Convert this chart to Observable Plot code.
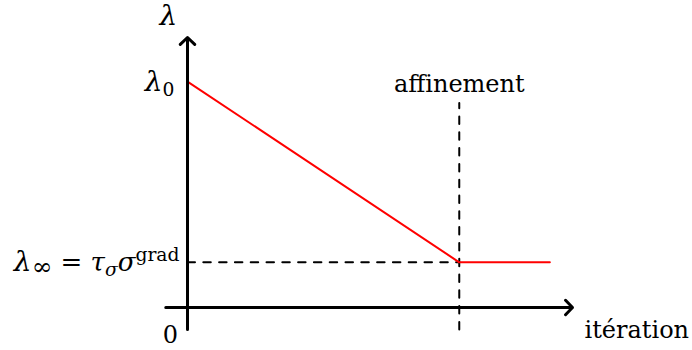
<!DOCTYPE html>
<html><head><meta charset="utf-8">
<script src="https://cdn.jsdelivr.net/npm/d3@7"></script>
<script src="https://cdn.jsdelivr.net/npm/@observablehq/plot@0.6"></script>
<style>body{margin:0;background:#fff} svg{display:block}</style>
</head><body><div id="chart"></div>
<script>
// ---- data ----
const iteration = [0, 3, 4];            // start, affinement, end of curve
const lambda = [1, 0.2, 0.2];           // λ0 decreasing to λ∞, then constant
const lambda0 = 1;
const lambdaInf = 0.2;
const affinementIter = 3;
const xAxisExtent = [-0.24, 4.25];
const yAxisExtent = [-0.097, 1.195];
const affinementTop = 0.905;
const yTickValues = [lambda0, lambdaInf];
const yTickLabels = ["λ0", "λ∞ = τσσgrad"];
const originLabel = "0";
const xAxisLabel = "itération";
const yAxisLabel = "λ";
const affinementLabel = "affinement";

// rich text (sub/superscripts) for labels
const M = 26; // math font size
const rich = {
  "λ": [["λ", "lam"]],
  "λ0": [["λ", "lam"], ["0", "sub"]],
  "λ∞ = τσσgrad": [["λ", "lam"], ["∞", "inf"], [" = ", "r"], ["τ", "mi"], ["σ", "subi"], ["σ", "mi"], ["grad", "sup"]]
};

const font = "DejaVu Serif";

const chart = Plot.plot({
  width: 692, height: 350,
  marginLeft: 187, marginRight: 120, marginTop: 37, marginBottom: 43,
  x: {domain: [0, xAxisExtent[1]], axis: null},
  y: {domain: [0, yAxisExtent[1]], axis: null},
  style: {background: "white", overflow: "visible"},
  marks: [
    // dashed guides
    Plot.line([{x: 0, y: lambdaInf}, {x: affinementIter, y: lambdaInf}],
      {x: "x", y: "y", stroke: "black", strokeWidth: 2, strokeDasharray: "7.5,8.3"}),
    Plot.line([{x: affinementIter, y: yAxisExtent[0]}, {x: affinementIter, y: affinementTop}],
      {x: "x", y: "y", stroke: "black", strokeWidth: 2, strokeDasharray: "7.5,8.3"}),
    // curve
    Plot.line(iteration.map((x, i) => ({x, y: lambda[i]})),
      {x: "x", y: "y", stroke: "#ff0000", strokeWidth: 2}),
    // axes
    Plot.arrow([
      {x1: xAxisExtent[0], y1: 0, x2: xAxisExtent[1], y2: 0},
      {x1: 0, y1: yAxisExtent[0], x2: 0, y2: yAxisExtent[1]}
    ], {x1: "x1", y1: "y1", x2: "x2", y2: "y2", stroke: "black", strokeWidth: 3, headLength: 5, headAngle: 92}),
    // y tick labels
    Plot.text([yTickLabels[0]], {x: () => 0, y: () => yTickValues[0], text: d => d, textAnchor: "end", dx: -13, dy: 1,
      fontFamily: font, fontSize: M, fill: "black"}),
    Plot.text([yTickLabels[1]], {x: () => 0, y: () => yTickValues[1], text: d => d, textAnchor: "end", dx: -8, dy: 0,
      fontFamily: font, fontSize: M, fill: "black"}),
    // axis labels
    Plot.text([yAxisLabel], {x: () => 0, y: () => yAxisExtent[1], text: d => d, dx: -19, dy: -21,
      fontFamily: font, fontSize: M, fill: "black"}),
    Plot.text([originLabel], {x: () => 0, y: () => 0, text: d => d, dx: -17, dy: 28,
      fontFamily: font, fontSize: 24, fill: "black"}),
    Plot.text([xAxisLabel], {x: () => xAxisExtent[1], y: () => 0, text: d => d, textAnchor: "start", dx: 12, dy: 23,
      fontFamily: font, fontSize: 24, fill: "black"}),
    Plot.text([affinementLabel], {x: () => affinementIter, y: () => affinementTop, text: d => d, dx: 0, dy: -19,
      fontFamily: font, fontSize: 24, fill: "black"})
  ]
});

// apply sub/superscript formatting
const NS = "http://www.w3.org/2000/svg";
chart.querySelectorAll("text").forEach(t => {
  const spec = rich[t.textContent];
  if (!spec) return;
  while (t.firstChild) t.removeChild(t.firstChild);
  let cur = 0;
  for (const [s, kind] of spec) {
    const ts = document.createElementNS(NS, "tspan");
    ts.textContent = s;
    let target = 0, size = M, italic = false;
    if (kind === "mi") italic = true;
    if (kind === "lam") { italic = true; size = M * 1.08; }
    if (kind === "sub") { target = 5; size = M * 0.72; }
    if (kind === "inf") { target = 4; size = M * 0.95; }
    if (kind === "subi") { target = 5; size = M * 0.72; italic = true; }
    if (kind === "sup") { target = -10; size = M * 0.72; }
    ts.setAttribute("font-size", size);
    if (italic) ts.setAttribute("font-style", "italic");
    if (target !== cur) ts.setAttribute("dy", target - cur);
    cur = target;
    t.appendChild(ts);
  }
});

document.getElementById("chart").appendChild(chart);
</script>
</body></html>
